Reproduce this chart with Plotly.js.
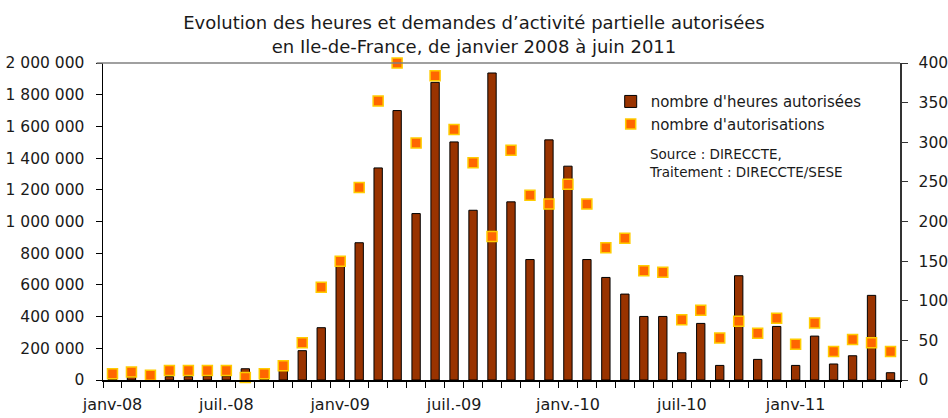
<!DOCTYPE html>
<html>
<head>
<meta charset="utf-8">
<script src="https://cdn.plot.ly/plotly-3.0.1.min.js"></script>
<style>html,body{margin:0;padding:0;background:#fff;}#chart{width:948px;height:418px;}</style>
</head>
<body>
<div id="chart"></div>
<script>
const months = [
  "janv-08","févr-08","mars-08","avr-08","mai-08","juin-08","juil.-08","août-08","sept-08","oct-08","nov-08","déc-08",
  "janv-09","févr-09","mars-09","avr-09","mai-09","juin-09","juil.-09","août-09","sept-09","oct-09","nov-09","déc-09",
  "janv.-10","févr-10","mars-10","avr-10","mai-10","juin-10","juil-10","août-10","sept-10","oct-10","nov-10","déc-10",
  "janv-11","févr-11","mars-11","avr-11","mai-11","juin-11"
];
const tickLabels = ["janv-08","juil.-08","janv-09","juil.-09","janv.-10","juil-10","janv-11"];
const hoursAuthorised = [
  8000, 17000, 5000, 21000, 21000, 25000, 25000, 71000, 10000, 60000, 185000, 330000,
  725000, 866000, 1338000, 1700000, 1050000, 1878000, 1502000, 1071000, 1937000, 1124000, 760000, 1515000,
  1349000, 760000, 647000, 542000, 401000, 401000, 172000, 357000, 92000, 658000, 130000, 338000,
  92000, 277000, 101000, 153000, 534000, 46000
];
const authorisations = [
  8, 10, 6, 12, 12, 12, 12, 3, 8, 18, 47, 117,
  150, 243, 352, 400, 299, 384, 316, 274, 181, 290, 233, 222,
  247, 222, 167, 179, 138, 136, 76, 88, 53, 74, 59, 78,
  45, 72, 36, 51, 47, 36
];

const FONT = "DejaVu Sans, Verdana, sans-serif";
const tickText = months.map(m => tickLabels.includes(m) ? m : "");

const traces = [
  {
    type: "bar", x: months, y: hoursAuthorised, name: "nombre d'heures autorisées",
    marker: {color: "#993300", line: {color: "#000000", width: 1}},
    hoverinfo: "x+y"
  },
  {
    type: "scatter", mode: "markers", x: months, y: authorisations, yaxis: "y2",
    name: "nombre d'autorisations",
    marker: {symbol: "square", size: 10, color: "#FF6600", line: {color: "#FFCC00", width: 1.5}},
    cliponaxis: false
  }
];

const layout = {
  width: 948, height: 418,
  margin: {l: 103, r: 48, t: 63, b: 38},
  paper_bgcolor: "#ffffff", plot_bgcolor: "#ffffff",
  separators: ", ",
  font: {family: FONT, size: 15, color: "#1a1a1a"},
  title: {
    text: "Evolution des heures et demandes d’activité partielle autorisées<br>en Ile-de-France, de janvier 2008 à juin 2011",
    x: 0.5, xref: "container", xanchor: "center",
    y: 0.93, yref: "container", yanchor: "middle",
    font: {family: FONT, size: 18, color: "#1a1a1a"}
  },
  bargap: 0.56,
  showlegend: true,
  legend: {
    x: 0.637, y: 0.93, xanchor: "left", yanchor: "top",
    bgcolor: "rgba(0,0,0,0)", font: {family: FONT, size: 15, color: "#1a1a1a"},
    tracegroupgap: 0, itemwidth: 30
  },
  xaxis: {
    type: "category", tickmode: "array", tickvals: months, ticktext: tickText,
    tickson: "boundaries", ticks: "outside", ticklen: 6, tickcolor: "#000", tickwidth: 1,
    tickangle: 0,
    showline: true, linecolor: "#000", linewidth: 1.5, showgrid: false, zeroline: false,
    ticklabelstandoff: 9, tickfont: {family: FONT, size: 16, color: "#1a1a1a"},
    range: [-0.5, months.length - 0.5], fixedrange: true
  },
  xaxis2: {
    overlaying: "x", anchor: "y", type: "linear", range: [-0.5, months.length - 0.5],
    tick0: -0.5, dtick: 1, ticks: "inside", ticklen: 6, tickcolor: "#000", tickwidth: 1,
    showticklabels: false, showline: false, showgrid: false, zeroline: false
  },
  yaxis: {
    range: [0, 2000000], dtick: 200000, tickformat: ",d",
    ticks: "outside", ticklen: 6, tickcolor: "#000", tickwidth: 1,
    showline: true, linecolor: "#000", linewidth: 1.5, showgrid: false, zeroline: false,
    ticklabelstandoff: 8, tickfont: {family: FONT, size: 15.5, color: "#1a1a1a"}, fixedrange: true
  },
  yaxis2: {
    overlaying: "y", side: "right", range: [0, 400], dtick: 50,
    ticks: "outside", ticklen: 6, tickcolor: "#333", tickwidth: 1,
    showline: true, linecolor: "#333", linewidth: 1.5, showgrid: false, zeroline: false,
    ticklabelstandoff: 8, tickfont: {family: FONT, size: 15.5, color: "#1a1a1a"}, fixedrange: true
  },
  yaxis3: {
    overlaying: "y", anchor: "x", side: "left", range: [0, 2000000], dtick: 200000,
    ticks: "inside", ticklen: 6, tickcolor: "#000", tickwidth: 1,
    showticklabels: false, showline: false, showgrid: false, zeroline: false
  },
  yaxis4: {
    overlaying: "y", anchor: "x", side: "right", range: [0, 400], dtick: 50,
    ticks: "inside", ticklen: 6, tickcolor: "#333", tickwidth: 1,
    showticklabels: false, showline: false, showgrid: false, zeroline: false
  },
  shapes: [
    {type: "line", xref: "paper", yref: "paper", x0: -0.008, x1: 1, y0: 1, y1: 1,
     line: {color: "#808080", width: 1.5}}
  ],
  annotations: [
    {xref: "paper", yref: "paper", x: 0.683, y: 0.743, xanchor: "left", yanchor: "top",
     align: "left", showarrow: false,
     text: "Source : DIRECCTE,<br>Traitement : DIRECCTE/SESE",
     font: {family: FONT, size: 13.5, color: "#1a1a1a"}}
  ]
};

Plotly.newPlot("chart", traces, layout, {displayModeBar: false, staticPlot: true});
</script>
</body>
</html>
